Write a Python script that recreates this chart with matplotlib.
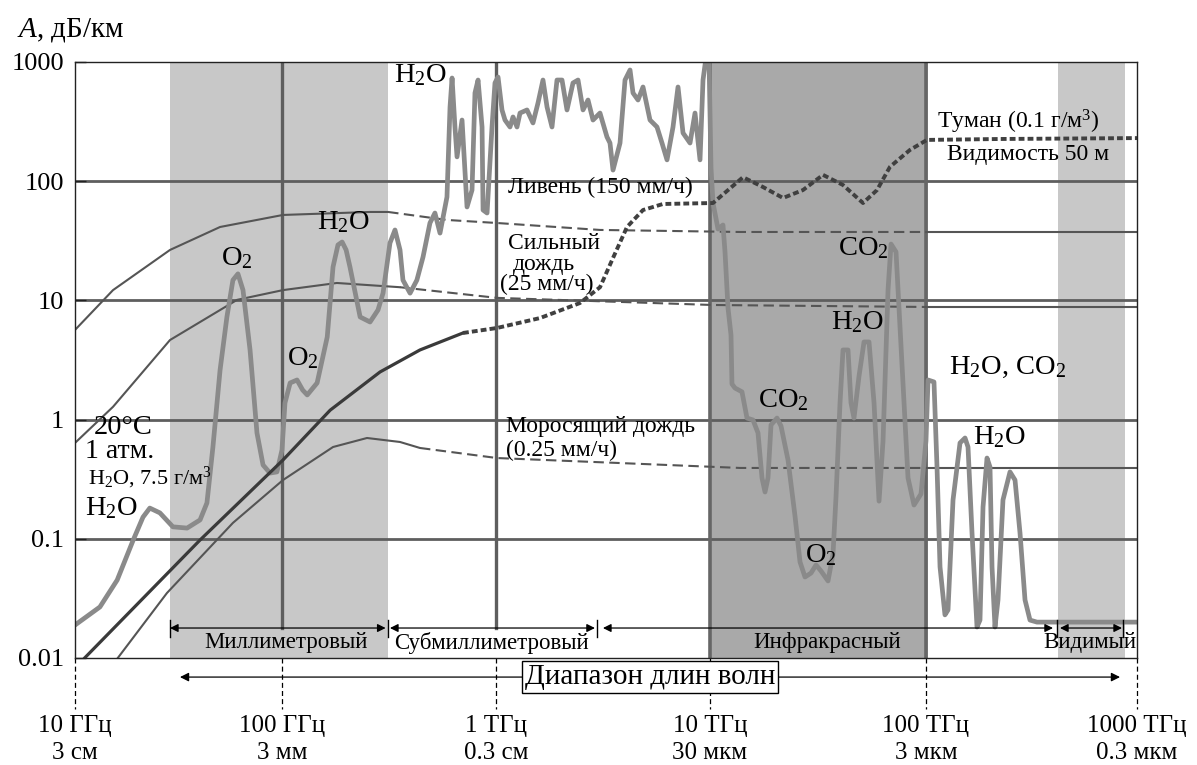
import numpy as np
import matplotlib
matplotlib.use("Agg")
import matplotlib.pyplot as plt
from matplotlib.ticker import NullLocator
import matplotlib.transforms as mtransforms

plt.rcParams['font.family'] = ['Liberation Serif', 'DejaVu Serif']
plt.rcParams['mathtext.fontset'] = 'custom'
plt.rcParams['mathtext.rm'] = 'Liberation Serif'
plt.rcParams['mathtext.it'] = 'Liberation Serif:italic'
plt.rcParams['mathtext.bf'] = 'Liberation Serif:bold'

# ---------------- data (frequency in GHz, attenuation in dB/km) ----------------
absorption_freq_ghz = [
    10, 13.1, 15.8, 18.8, 20.9, 22.5, 25.1, 28.9, 33.7, 38.8, 41.8, 44.6, 48.2, 51.9,
    55.4, 58.5, 61.8, 66.7, 71.9, 76.8, 82.8, 89.3, 94.3, 97.4, 103, 111, 118, 124,
    138, 154, 164, 173, 181, 189, 197, 220, 245, 267, 282, 304, 321, 339, 350, 378,
    407, 435, 469, 495, 523, 564, 583, 596, 615, 629, 664, 701, 740, 764, 790, 825,
    834, 871, 919, 949, 981, 1024, 1058, 1117, 1154, 1205, 1245, 1343, 1433, 1513,
    1597, 1669, 1761, 1859, 1963, 2072, 2211, 2335, 2465, 2602, 2747, 2963, 3196,
    3302, 3412, 3681, 3886, 4103, 4238, 4474, 4723, 5095, 5496, 5803, 6127, 6539,
    6903, 7288, 7863, 8300, 8763, 9052, 9452, 9661, 9872, 10088, 10650, 11240, 11490,
    11870, 12260, 12390, 12800, 13810, 14580, 15560, 16430, 17160, 17730, 18310,
    18920, 20190, 21090, 22750, 24540, 25910, 27350, 29190, 30820, 32530, 35100,
    37050, 38270, 39970, 41290, 43590, 45030, 46510, 49120, 51850, 54740, 57800,
    61020, 63720, 67270, 69490, 73360, 77440, 83550, 89150, 96180, 101500, 103800,
    110700, 114400, 118200, 124700, 128900, 136100, 146800, 155000, 160100, 167200,
    176500, 182300, 188400, 196700, 203200, 207700, 214500, 221600, 233900, 252400,
    266500, 281300, 297000, 313500, 338300, 1000000]
absorption_db_km = [
    0.0189, 0.0268, 0.0451, 0.0977, 0.152, 0.181, 0.165, 0.126, 0.123, 0.144, 0.200,
    0.589, 2.61, 7.26, 14.8, 16.7, 12.2, 3.84, 0.773, 0.416, 0.356, 0.364, 0.556, 1.38,
    2.03, 2.15, 1.77, 1.61, 2.03, 4.93, 19.1, 29.2, 30.9, 26.5, 19.1, 7.26, 6.59, 8.31,
    11.5, 30.3, 39.0, 26.5, 14.8, 11.5, 14.8, 23.1, 44.6, 54.1, 36.7, 73.7, 419, 734,
    285, 160, 326, 60.8, 84.3, 550, 706, 285, 57.3, 54.1, 285, 667, 748, 396, 326, 285,
    346, 285, 373, 396, 308, 453, 706, 419, 285, 706, 706, 396, 667, 706, 396, 480,
    326, 373, 235, 209, 124, 209, 706, 857, 550, 480, 617, 326, 285, 209, 151, 285,
    617, 254, 209, 373, 151, 706, 1260, 1050, 129, 65.6, 39.7, 42.9, 25.5, 8.63, 5.13,
    1.99, 1.84, 1.71, 1.03, 0.993, 0.773, 0.324, 0.247, 0.324, 0.902, 1.03, 0.883,
    0.458, 0.155, 0.0639, 0.0478, 0.0516, 0.0603, 0.0537, 0.0443, 0.0746, 0.224, 1.38,
    3.84, 3.84, 1.38, 1.03, 2.32, 4.48, 4.48, 1.38, 0.207, 0.662, 12.2, 29.7, 25.5,
    4.14, 0.324, 0.192, 0.238, 0.662, 2.15, 2.07, 0.400, 0.0581, 0.0230, 0.0253,
    0.212, 0.637, 0.701, 0.589, 0.112, 0.0182, 0.0208, 0.185, 0.476, 0.400, 0.0581,
    0.0182, 0.0307, 0.212, 0.364, 0.311, 0.112, 0.0307, 0.0208, 0.0200, 0.0200]

rain150_freq_ghz = [10, 15.1, 28.0, 48.2, 95.3, 245, 298, 564, 970, 2963, 13520, 101500, 1000000]
rain150_db_km = [5.65, 12.2, 26.5, 41.3, 52.1, 55.2, 55.2, 47.3, 44.6, 39.0, 37.5, 37.5, 37.5]

rain25_freq_ghz = [10, 15.1, 28.0, 57.9, 95.3, 171, 339, 970, 10088, 101500, 1000000]
rain25_db_km = [0.637, 1.28, 4.65, 10.1, 12.2, 14.0, 12.9, 10.5, 9.15, 8.81, 8.81]

drizzle_freq_ghz = [13.1, 15.9, 27.1, 55.4, 95.3, 164, 237, 339, 421, 970, 13520, 101500, 1000000]
drizzle_db_km = [0.0063, 0.01, 0.0351, 0.136, 0.311, 0.589, 0.701, 0.649, 0.578, 0.476, 0.393, 0.393, 0.393]

fog_freq_ghz = [10, 11.1, 38.8, 95.3, 159, 273, 421, 671, 970, 1546, 2385, 2963, 3412, 3971,
                4723, 5866, 10088, 13960, 17340, 21550, 26760, 33240, 41290, 51280, 59700,
                68710, 85340, 102600, 226400, 1000000]
fog_db_km = [0.0079, 0.01, 0.0977, 0.458, 1.20, 2.51, 3.84, 5.33, 5.87, 7.11, 9.51, 12.9, 22.7,
             41.3, 57.3, 64.4, 65.6, 108, 89.4, 72.3, 84.3, 113, 92.9, 65.6, 84.3, 132, 183,
             222, 226, 230]

# tick positions (as placed in the figure) and their labels
tick_pos_ghz = [10, 94.3, 959, 9770, 101500, 1000000]
tick_freq_labels = ['10 ГГц', '100 ГГц', '1 ТГц', '10 ТГц', '100 ТГц', '1000 ТГц']
tick_wave_labels = ['3 см', '3 мм', '0.3 см', '30 мкм', '3 мкм', '0.3 мкм']
ytick_vals = [0.01, 0.1, 1, 10, 100, 1000]
ytick_labels = ['0.01', '0.1', '1', '10', '100', '1000']

# spectral ranges (GHz)
band_names = ['Миллиметровый', 'Субмиллиметровый', 'Инфракрасный', 'Видимый']
band_arrow_ghz = [(28.0, 290), (304, 2805), (3060, 402200), (434000, 850000)]
band_tick_ghz = [28.0, 298, 2870, 420100, 860000]
band_label_ghz = [98.5, 909, 34700, 600500]
shaded_light = [(28.0, 298), (425000, 877000)]
shaded_dark = [(9770, 103800)]

# ---------------- figure ----------------
W, H = 1197, 765
fig = plt.figure(figsize=(W / 100, H / 100), dpi=100)
fig.patch.set_facecolor('white')
ax = fig.add_axes([75 / W, 1 - 658 / H, (1137 - 75) / W, (658 - 62) / H])
ax.set_xscale('log')
ax.set_yscale('log')
ax.set_xlim(10, 1e6)
ax.set_ylim(0.01, 1000)
ax.xaxis.set_minor_locator(NullLocator())
ax.yaxis.set_minor_locator(NullLocator())

trans = mtransforms.blended_transform_factory(ax.transData, ax.transAxes)

for lo, hi in shaded_light:
    ax.axvspan(lo, hi, color='#c8c8c8', lw=0, zorder=0)
for lo, hi in shaded_dark:
    ax.axvspan(lo, hi, color='#a9a9a9', lw=0, zorder=0)

grid_c = '#5e5e5e'
for yv in ytick_vals[1:-1]:
    ax.axhline(yv, color=grid_c, lw=2.0, zorder=1)
for xv in tick_pos_ghz[1:3]:
    ax.plot([xv, xv], [0.0503, 1], transform=trans, color=grid_c, lw=2.4, zorder=1)
for xv in tick_pos_ghz[3:5]:
    ax.plot([xv, xv], [0, 1], transform=trans, color='#666666', lw=2.6, zorder=1)


def draw_piecewise(freqs, vals, breaks, styles, z=3):
    f = np.asarray(freqs, float)
    v = np.asarray(vals, float)
    edges = [f.min()] + list(breaks) + [f.max()]
    for lo, hi, st in zip(edges[:-1], edges[1:], styles):
        m = (f >= lo) & (f <= hi)
        ax.plot(f[m], v[m], zorder=z, **st)


thin_solid = dict(color='#555555', lw=1.5, solid_capstyle='round')
thin_dash = dict(color='#555555', lw=1.5, linestyle=(0, (5, 2.6)))
draw_piecewise(rain150_freq_ghz, rain150_db_km, [298, 101500], [thin_solid, thin_dash, thin_solid])
draw_piecewise(rain25_freq_ghz, rain25_db_km, [339, 101500], [thin_solid, thin_dash, thin_solid])
draw_piecewise(drizzle_freq_ghz, drizzle_db_km, [421, 101500], [thin_solid, thin_dash, thin_solid])

ax.plot(absorption_freq_ghz, absorption_db_km, color='#8a8a8a', lw=3.4,
        solid_joinstyle='round', solid_capstyle='round', zorder=4)

draw_piecewise(fog_freq_ghz, fog_db_km, [671],
               [dict(color='#3a3a3a', lw=2.3),
                dict(color='#404040', lw=2.8, linestyle=(0, (1.5, 0.8)))], z=5)

for sp in ax.spines.values():
    sp.set_color('#222222')
    sp.set_linewidth(1.0)
    sp.set_zorder(6)

ax.set_yticks(ytick_vals, ytick_labels)
ax.tick_params(axis='y', direction='in', length=8, width=1, pad=8, labelsize=19, color='#222222')
ax.set_xticks(tick_pos_ghz, [a + '\n' + b for a, b in zip(tick_freq_labels, tick_wave_labels)])
ax.tick_params(axis='x', length=0, pad=41, labelsize=18)
for lab in ax.get_xticklabels():
    lab.set_linespacing(1.32)

# dashed drop lines below the axis
for xv in tick_pos_ghz:
    ax.plot([xv, xv], [0, -0.085], transform=trans, color='black', lw=0.9,
            linestyle=(0, (4, 2.5)), clip_on=False, zorder=2)

# spectral range arrows
for (lo, hi) in band_arrow_ghz:
    ax.annotate('', xy=(lo, 0.0503), xytext=(hi, 0.0503), xycoords=trans, textcoords=trans,
                arrowprops=dict(arrowstyle='<|-|>', lw=0.9, color='black', mutation_scale=12,
                                shrinkA=0, shrinkB=0), zorder=6)
for xv in band_tick_ghz:
    ax.plot([xv, xv], [0.036, 0.064], transform=trans, color='black', lw=1.0, zorder=6)
for name, xv in zip(band_names, band_label_ghz):
    ax.text(xv, 0.026, name, transform=trans, ha='center', va='center', fontsize=16.5, zorder=7)

# wavelength range arrow with boxed caption
ax.annotate('', xy=(31.2, -0.032), xytext=(832000, -0.032), xycoords=trans, textcoords=trans,
            arrowprops=dict(arrowstyle='<|-|>', lw=0.9, color='black', mutation_scale=13,
                            shrinkA=0, shrinkB=0), annotation_clip=False, zorder=6)
ax.text(5094, -0.032, 'Диапазон длин волн', transform=trans, ha='center', va='center',
        fontsize=21, zorder=8, clip_on=False,
        bbox=dict(boxstyle='square,pad=0.1', fc='white', ec='black', lw=1.0))

# axis title
fig.text(17 / W, 1 - 30 / H, r'$A$, дБ/км', ha='left', va='center', fontsize=21)

# annotations inside the plot
big = 20.5
mid = 17
ax.text(421, 778, r'H$_2$O', ha='center', va='center', fontsize=big, zorder=7)
ax.text(57.9, 22.7, r'O$_2$', ha='center', va='center', fontsize=big, zorder=7)
ax.text(183, 45.5, r'H$_2$O', ha='center', va='center', fontsize=big, zorder=7)
ax.text(118, 3.29, r'O$_2$', ha='center', va='center', fontsize=big, zorder=7)
ax.text(16.9, 0.851, '20°C', ha='center', va='center', fontsize=20.5, zorder=7)
ax.text(16.2, 0.535, '1 атм.', ha='center', va='center', fontsize=20, zorder=7)
ax.text(22.5, 0.324, r'H$_2$O, 7.5 г/м$^3$', ha='center', va='center', fontsize=16, zorder=7)
ax.text(14.9, 0.181, r'H$_2$O', ha='center', va='center', fontsize=big, zorder=7)
ax.text(1093, 89.4, 'Ливень (150 мм/ч)', ha='left', va='center', fontsize=mid, zorder=7)
ax.text(1093, 30.3, 'Сильный', ha='left', va='center', fontsize=mid, zorder=7)
ax.text(1154, 20.2, 'дождь', ha='left', va='center', fontsize=mid, zorder=7)
ax.text(1002, 13.5, '(25 мм/ч)', ha='left', va='center', fontsize=mid, zorder=7)
ax.text(1069, 0.867, 'Моросящий дождь', ha='left', va='center', fontsize=mid, zorder=7)
ax.text(1069, 0.556, '(0.25 мм/ч)', ha='left', va='center', fontsize=mid, zorder=7)
ax.text(114400, 314, r'Туман (0.1 г/м$^3$)', ha='left', va='center', fontsize=mid, zorder=7)
ax.text(127500, 166, 'Видимость 50 м', ha='left', va='center', fontsize=mid, zorder=7)
ax.text(51300, 27.5, r'CO$_2$', ha='center', va='center', fontsize=big, zorder=7)
ax.text(48060, 6.59, r'H$_2$O', ha='center', va='center', fontsize=big, zorder=7)
ax.text(21550, 1.46, r'CO$_2$', ha='center', va='center', fontsize=big, zorder=7)
ax.text(32500, 0.0731, r'O$_2$', ha='center', va='center', fontsize=big, zorder=7)
ax.text(244300, 2.76, r'H$_2$O, CO$_2$', ha='center', va='center', fontsize=big, zorder=7)
ax.text(223900, 0.714, r'H$_2$O', ha='center', va='center', fontsize=big, zorder=7)

fig.savefig('out.png', dpi=100, facecolor='white')
